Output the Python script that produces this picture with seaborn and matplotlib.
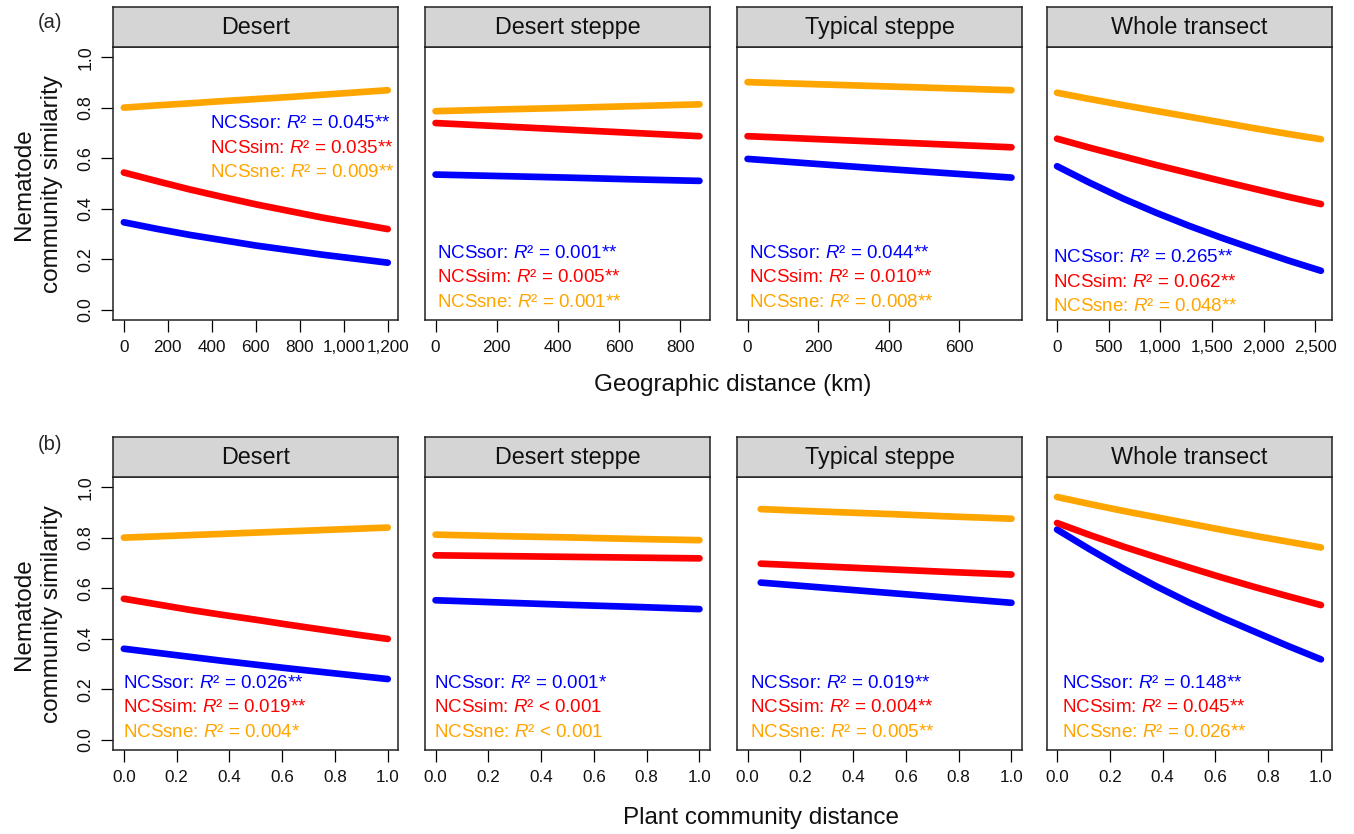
import numpy as np
import pandas as pd
import matplotlib
matplotlib.use('Agg')
import matplotlib.pyplot as plt
from matplotlib.ticker import FuncFormatter
import seaborn as sns

sns.set_style('ticks')
plt.rcParams['font.family'] = ['Liberation Sans', 'DejaVu Sans']
plt.rcParams['mathtext.fontset'] = 'custom'
plt.rcParams['mathtext.rm'] = 'Liberation Sans'
plt.rcParams['mathtext.it'] = 'Liberation Sans:italic'

titles = ['Desert', 'Desert steppe', 'Typical steppe', 'Whole transect']
indices = ['NCSsor', 'NCSsim', 'NCSsne']
colors = {'NCSsor': '#0000FF', 'NCSsim': '#FF0000', 'NCSsne': '#FFA500'}

# (a) nematode similarity vs geographic distance (km)
geo_x = [[0, 150, 300, 450, 600, 750, 900, 1050, 1200],
         [0, 215, 430, 645, 862],
         [0, 187, 374, 561, 748],
         [0, 319, 639, 958, 1278, 1597, 1916, 2236, 2555]]
geo_sor = [[0.347, 0.321, 0.297, 0.276, 0.255, 0.237, 0.219, 0.203, 0.187],
           [0.536, 0.530, 0.524, 0.517, 0.511],
           [0.598, 0.579, 0.560, 0.542, 0.524],
           [0.569, 0.503, 0.441, 0.385, 0.333, 0.285, 0.240, 0.196, 0.155]]
geo_sim = [[0.544, 0.510, 0.477, 0.447, 0.418, 0.392, 0.366, 0.343, 0.320],
           [0.740, 0.727, 0.714, 0.701, 0.688],
           [0.688, 0.677, 0.666, 0.655, 0.644],
           [0.678, 0.642, 0.608, 0.574, 0.542, 0.510, 0.479, 0.448, 0.419]]
geo_sne = [[0.801, 0.810, 0.818, 0.827, 0.835, 0.843, 0.852, 0.861, 0.870],
           [0.787, 0.794, 0.800, 0.807, 0.814],
           [0.902, 0.894, 0.886, 0.878, 0.870],
           [0.860, 0.835, 0.811, 0.788, 0.765, 0.742, 0.719, 0.697, 0.676]]
geo_r2 = [['= 0.045**', '= 0.035**', '= 0.009**'],
          ['= 0.001**', '= 0.005**', '= 0.001**'],
          ['= 0.044**', '= 0.010**', '= 0.008**'],
          ['= 0.265**', '= 0.062**', '= 0.048**']]
geo_ticks = [[0, 200, 400, 600, 800, 1000, 1200],
             [0, 200, 400, 600, 800],
             [0, 200, 400, 600],
             [0, 500, 1000, 1500, 2000, 2500]]

# (b) nematode similarity vs plant community distance
plant_x = [[0.0, 0.125, 0.25, 0.375, 0.5, 0.625, 0.75, 0.875, 1.0],
           [0.0, 0.25, 0.5, 0.75, 1.0],
           [0.05, 0.2875, 0.525, 0.7625, 1.0],
           [0.0, 0.125, 0.25, 0.375, 0.5, 0.625, 0.75, 0.875, 1.0]]
plant_sor = [[0.361, 0.345, 0.329, 0.313, 0.298, 0.283, 0.269, 0.255, 0.241],
             [0.553, 0.544, 0.535, 0.527, 0.518],
             [0.623, 0.603, 0.583, 0.563, 0.543],
             [0.833, 0.754, 0.679, 0.609, 0.544, 0.484, 0.428, 0.372, 0.319]]
plant_sim = [[0.559, 0.537, 0.515, 0.495, 0.476, 0.456, 0.437, 0.418, 0.400],
             [0.731, 0.728, 0.725, 0.722, 0.719],
             [0.698, 0.687, 0.676, 0.665, 0.655],
             [0.859, 0.811, 0.766, 0.724, 0.683, 0.643, 0.605, 0.569, 0.534]]
plant_sne = [[0.801, 0.806, 0.811, 0.816, 0.821, 0.826, 0.831, 0.836, 0.841],
             [0.813, 0.807, 0.802, 0.796, 0.791],
             [0.914, 0.904, 0.895, 0.885, 0.876],
             [0.962, 0.934, 0.907, 0.882, 0.857, 0.832, 0.808, 0.785, 0.762]]
plant_r2 = [['= 0.026**', '= 0.019**', '= 0.004*'],
            ['= 0.001*', '< 0.001', '< 0.001'],
            ['= 0.019**', '= 0.004**', '= 0.005**'],
            ['= 0.148**', '= 0.045**', '= 0.026**']]
plant_ticks = [0.0, 0.2, 0.4, 0.6, 0.8, 1.0]

W, H = 1354, 834
fig = plt.figure(figsize=(W / 100, H / 100), dpi=100)

lefts = [113.3, 425.0, 737.0, 1046.5]
pw = 285.0
row_box = [(47.3, 320.0), (477.3, 750.0)]
hdr_h = 40.0


def frac(l, top, w, h):
    return [l / W, (H - top - h) / H, w / W, h / H]


def panel(row, col, xs, sor, sim, sne, r2, xticks, xlim, fmt, txt_pos):
    top, bot = row_box[row]
    ax = fig.add_axes(frac(lefts[col], top, pw, bot - top))
    df = pd.DataFrame({
        'x': xs * 3,
        'y': sor + sim + sne,
        'index': [i for i in indices for _ in xs],
    })
    sns.lineplot(data=df, x='x', y='y', hue='index', palette=colors,
                 ax=ax, legend=False, linewidth=4.8, solid_capstyle='round',
                 solid_joinstyle='round')
    ax.set_xlim(*xlim)
    ax.set_ylim(-0.04, 1.04)
    ax.set_xticks(xticks)
    ax.xaxis.set_major_formatter(FuncFormatter(fmt))
    ax.set_xlabel('')
    ax.set_ylabel('')
    ax.tick_params(axis='both', direction='out', length=8.5, width=0.9,
                   labelsize=12.3, color='black', labelcolor='#111111')
    ax.tick_params(axis='x', pad=6)
    if col == 0:
        ax.set_yticks([0.0, 0.2, 0.4, 0.6, 0.8, 1.0])
        ax.set_yticklabels(['0.0', '0.2', '0.4', '0.6', '0.8', '1.0'],
                           rotation=90, va='center')
        ax.tick_params(axis='y', pad=5, labelsize=12.8)
    else:
        ax.set_yticks([])
    for s in ax.spines.values():
        s.set_color('#222222')
        s.set_linewidth(1.1)
    tx, tys = txt_pos
    for name, lab, ty in zip(indices, r2, tys):
        ax.text(tx, ty, f'{name}: $\\mathit{{R}}$\u00b2 {lab}', transform=ax.transAxes,
                color=colors[name], fontsize=13.5, ha='left', va='center')
    hx = fig.add_axes(frac(lefts[col], top - hdr_h, pw, hdr_h))
    hx.set_facecolor('#D5D5D5')
    hx.set_xticks([])
    hx.set_yticks([])
    for s in hx.spines.values():
        s.set_color('#222222')
        s.set_linewidth(1.1)
    hx.text(0.5, 0.5, titles[col], ha='center', va='center', fontsize=16.8,
            color='#111111', transform=hx.transAxes)
    return ax


geo_txt = [(0.34, [0.72, 0.63, 0.54]),
           (0.041, [0.245, 0.155, 0.065]),
           (0.042, [0.245, 0.155, 0.065]),
           (0.023, [0.228, 0.138, 0.048])]
plant_txt = [(0.034, [0.245, 0.155, 0.064]),
             (0.032, [0.245, 0.155, 0.064]),
             (0.044, [0.245, 0.155, 0.064]),
             (0.055, [0.245, 0.155, 0.064])]

for c in range(4):
    xs = geo_x[c]
    span = max(xs) - min(xs)
    panel(0, c, xs, geo_sor[c], geo_sim[c], geo_sne[c], geo_r2[c], geo_ticks[c],
          (min(xs) - 0.04 * span, max(xs) + 0.04 * span),
          lambda v, p: f'{v:,.0f}', geo_txt[c])
    panel(1, c, plant_x[c], plant_sor[c], plant_sim[c], plant_sne[c], plant_r2[c],
          plant_ticks, (-0.04, 1.04), lambda v, p: f'{v:.1f}', plant_txt[c])

# axis titles and panel letters
for row, xlab, xc, dy in [(0, 'Geographic distance (km)', 733, 65),
                          (1, 'Plant community distance', 761, 68)]:
    top, bot = row_box[row]
    ymid = (top + bot) / 2
    fig.text(38 / W, 1 - ymid / H, 'Nematode\ncommunity similarity', rotation=90,
             ha='center', va='center', fontsize=17.5, linespacing=1.3,
             color='#111111')
    fig.text(xc / W, 1 - (bot + dy) / H, xlab, ha='center', va='center',
             fontsize=17.5, color='#111111')
fig.text(50 / W, 1 - 23 / H, '(a)', ha='center', va='center', fontsize=14.5)
fig.text(50 / W, 1 - 445 / H, '(b)', ha='center', va='center', fontsize=14.5)

fig.savefig('out.png', dpi=100)
